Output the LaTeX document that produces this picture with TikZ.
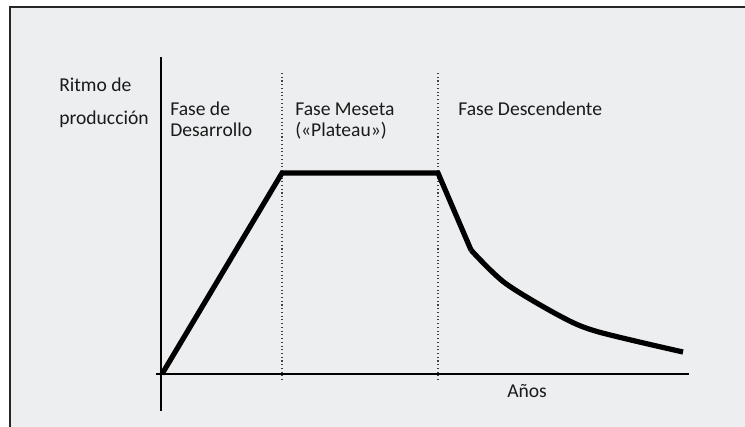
\documentclass[tikz,border=0pt]{standalone}
\usepackage{fontspec}
\setmainfont{Carlito}
\definecolor{bgc}{HTML}{EDEEF0}
\definecolor{txt}{HTML}{1A1A1A}
\begin{document}
\begin{tikzpicture}[x=0.75pt,y=-0.75pt,
  lbl/.style={anchor=base west,inner sep=0pt,text=txt,font=\fontsize{14.7}{15.75}\selectfont},
  axis/.style={line width=1.1pt,black},
  phase/.style={line width=0.8pt,dotted,black!75},
  curve/.style={line width=3.9pt,black,line join=miter}]
\useasboundingbox (0,0) rectangle (745,426);
\fill[white] (0,0) rectangle (745,426);
\fill[bgc] (10,7) rectangle (746,427);
\draw[line width=1.4pt,black!85] (10,430) -- (10,7) -- (750,7);
% phase separators
\coordinate (d1t) at (282,73); \coordinate (d1b) at (282,382);
\coordinate (d2t) at (438,73); \coordinate (d2b) at (438,382);
\draw[phase] (d1t) -- (d1b);
\draw[phase] (d2t) -- (d2b);
% axes
\coordinate (yt) at (161,57); \coordinate (yb) at (161,411);
\coordinate (xl) at (156,374); \coordinate (xr) at (689,374);
\draw[axis] (yt) -- (yb);
\draw[axis] (xl) -- (xr);
% curve
\coordinate (p0) at (162,374);
\coordinate (p1) at (282,173);
\coordinate (p2) at (438,173);
\coordinate (p3) at (471,250);
\draw[curve] (p0) -- (p1) -- (p2) -- (p3);
\draw[curve,line cap=butt] plot[smooth,tension=0.5] coordinates {(p3) (505,283) (560,316) (597,331.5) (683,352)};
% labels
\node[lbl] (r1) at (59,91) {Ritmo de};
\node[lbl] (r2) at (59,124) {producción};
\node[lbl,align=left] (f1) at (170,115) {Fase de};
\node[lbl] (f1b) at (170,136) {Desarrollo};
\node[lbl] (f2) at (295,115) {Fase Meseta};
\node[lbl] (f2b) at (295,136) {(«Plateau»)};
\node[lbl] (f3) at (458,115) {Fase Descendente};
\node[lbl] (an) at (507,397.5) {Años};
\end{tikzpicture}
\end{document}
